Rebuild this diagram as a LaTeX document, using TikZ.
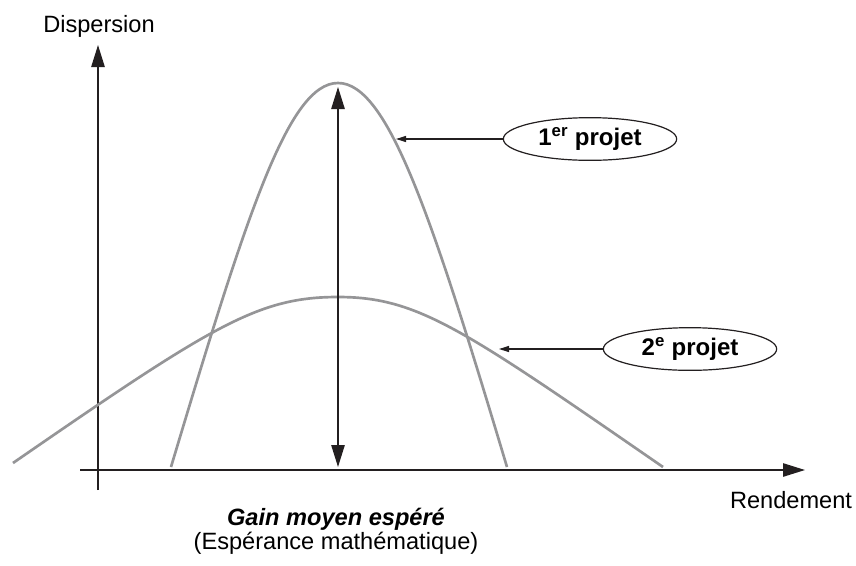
\documentclass[tikz,border=0pt]{standalone}
\usepackage{fontspec}
\setmainfont{Liberation Sans}
\usetikzlibrary{arrows.meta,shapes.geometric}
\definecolor{ink}{HTML}{231F20}
\definecolor{bell}{HTML}{959597}
\tikzset{
  bigtip/.tip={Triangle[length=16.5pt,width=10pt]},
  smalltip/.tip={Triangle[length=7.5pt,width=4.5pt]}
}
\begin{document}
\begin{tikzpicture}[x=0.75pt,y=-0.75pt,
  font=\fontsize{17.7pt}{21pt}\selectfont,
  axisline/.style={draw=ink, line width=1.2pt},
  bellcurve/.style={draw=bell, line width=2pt},
  pointer/.style={draw=ink, line width=0.9pt, -{smalltip}},
  tag/.style={ellipse, draw=ink, line width=0.9pt, inner sep=0pt,
    minimum width=130pt, minimum height=32pt, font=\fontsize{18pt}{21pt}\selectfont\bfseries},
  caption/.style={anchor=base, inner sep=0pt}]
\useasboundingbox (0,0) rectangle (856,565);

% axes
\coordinate (ybot) at (98,490);
\coordinate (ytop) at (98,45);
\coordinate (xleft) at (80,470);
\coordinate (xright) at (805,470);
\draw[axisline, -{bigtip}] (ybot) -- (ytop);
\draw[axisline, -{bigtip}] (xleft) -- (xright);
\node[caption] (disp) at (99,32) {Dispersion};
\node[caption] (rend) at (791,508) {Rendement};

% the two bell curves
\draw[bellcurve] (171,467) .. controls (246,217) and (288,83) .. (338,83)
                           .. controls (388,83) and (432,217) .. (507,467);
\draw[bellcurve] (13,463) .. controls (213,325) and (258,297) .. (338,297)
                          .. controls (418,297) and (463,329) .. (663,467);

% spread of the first project
\coordinate (peak) at (338,87);
\coordinate (foot) at (338,467);
\draw[axisline, {bigtip}-{bigtip}] (peak) -- (foot);

% project labels
\node[tag] (p1) at (590,139) {1\textsuperscript{er} projet};
\node[tag] (p2) at (690,349) {2\textsuperscript{e} projet};
\coordinate (on1) at (396,139);
\coordinate (on2) at (499,349);
\draw[pointer] (p1.west) -- (on1);
\draw[pointer] (p2.west) -- (on2);

% caption under the axis
\node[caption, font=\fontsize{17.7pt}{21pt}\selectfont\bfseries\itshape] (gain) at (336,525) {Gain moyen espéré};
\node[caption] (esp) at (336,549) {(Espérance mathématique)};
\end{tikzpicture}
\end{document}
